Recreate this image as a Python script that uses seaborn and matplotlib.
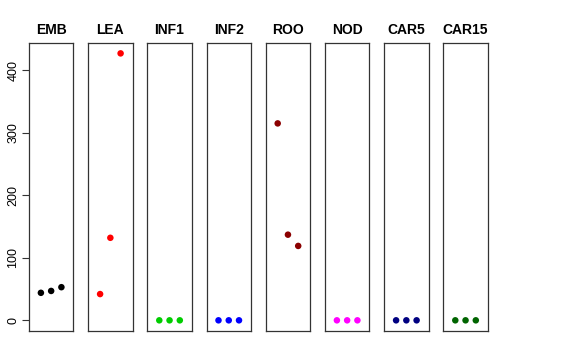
import numpy as np
import pandas as pd
import matplotlib
matplotlib.use("Agg")
import matplotlib.pyplot as plt
import seaborn as sns

# values
tissues = ["EMB", "LEA", "INF1", "INF2", "ROO", "NOD", "CAR5", "CAR15"]
colors = ["#000000", "#FF0000", "#00CD00", "#0000FF", "#8B0000", "#FF00FF", "#000080", "#006400"]
rep = [1, 2, 3]
emb = [44, 47, 53]
lea = [42, 132, 427]
inf1 = [0, 0, 0]
inf2 = [0, 0, 0]
roo = [315, 137, 119]
nod = [0, 0, 0]
car5 = [0, 0, 0]
car15 = [0, 0, 0]
yticks = [0, 100, 200, 300, 400]

vals = [emb, lea, inf1, inf2, roo, nod, car5, car15]
df = pd.DataFrame({
    "tissue": np.repeat(tissues, 3),
    "rep": rep * len(tissues),
    "expr": np.concatenate(vals),
})

sns.set_style("white")
plt.rcParams["font.family"] = ["Liberation Sans", "DejaVu Sans"]
plt.rcParams["text.color"] = "black"
plt.rcParams["ytick.color"] = "black"

fig = plt.figure(figsize=(5.76, 3.6), dpi=100)
W, H = 576, 360
ymax = max(max(v) for v in vals)
pad = 0.04 * ymax

for i, (t, c) in enumerate(zip(tissues, colors)):
    left = 29 + i * 59.2
    ax = fig.add_axes([left / W, (H - 331) / H, 44.3 / W, (331 - 42.7) / H])
    sub = df[df["tissue"] == t]
    sns.scatterplot(data=sub, x="rep", y="expr", color=c, s=22, edgecolor="none", ax=ax)
    ax.set_xlim(-0.16, 4.16)
    ax.set_ylim(-pad, ymax + pad)
    ax.set_xticks([])
    ax.set_xlabel("")
    ax.set_ylabel("")
    ax.set_title(t, fontsize=10, fontweight="bold", color="black", pad=6)
    for s in ax.spines.values():
        s.set_color("#333333")
        s.set_linewidth(0.9)
    if i == 0:
        ax.set_yticks(yticks)
        ax.set_yticklabels([str(v) for v in yticks], rotation=90, va="center", fontsize=9)
        ax.tick_params(axis="y", length=5, width=0.8, color="#333333", labelcolor="black", pad=2, left=True)
    else:
        ax.set_yticks([])

fig.savefig("out.png", dpi=100)
